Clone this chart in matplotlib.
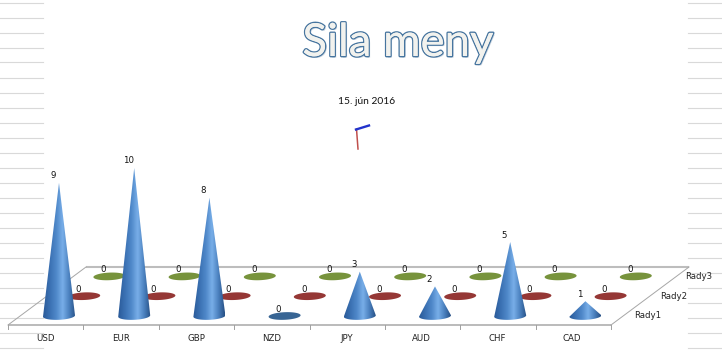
import numpy as np
import matplotlib
matplotlib.use("Agg")
import matplotlib.pyplot as plt
from matplotlib.colors import LinearSegmentedColormap
from matplotlib.patches import Polygon
import matplotlib.patheffects as pe

categories = ["USD", "EUR", "GBP", "NZD", "JPY", "AUD", "CHF", "CAD"]
rady1 = [9, 10, 8, 0, 3, 2, 5, 1]
rady2 = [0, 0, 0, 0, 0, 0, 0, 0]
rady3 = [0, 0, 0, 0, 0, 0, 0, 0]
series_names = ["Rady1", "Rady2", "Rady3"]
series_values = [rady1, rady2, rady3]
flat_colors = ["#386594", "#953735", "#77933C"]

W, H = 722, 362
X0, XU = 59.0, 75.2     # pixel x of first category, pixels per category
Y0, YU = 316.0, 14.8    # pixel y of zero, pixels per value unit
DX, DY = 25.2 / XU, 19.8 / YU   # depth shift per series, in data units
RX, RY = 16.0 / XU, 3.8 / YU
TILT = 0.7 / YU         # the base ellipses lean upward to the right


def dx(p):
    return (p - X0) / XU


def dy(p):
    return (Y0 - p) / YU


def ellipse_pts(cx, cy, t):
    return cx + RX * np.cos(t), cy + RY * np.sin(t) + TILT * np.cos(t)


fig = plt.figure(figsize=(W / 100, H / 100), dpi=100)
ax = fig.add_axes([0, 0, 1, 1])
ax.axis("off")

# sheet cell lines behind the chart
for yy in np.arange(2.5, 350, 15):
    ax.plot([dx(0), dx(43)], [dy(yy)] * 2, color="#d9d9d9", lw=0.8, zorder=0)
    ax.plot([dx(688), dx(722)], [dy(yy)] * 2, color="#d9d9d9", lw=0.8, zorder=0)

# floor frame
ax.plot([dx(86), dx(689)], [dy(267)] * 2, color="#bdbdbd", lw=1.5, zorder=1, solid_capstyle="butt")
ax.plot([dx(8), dx(611)], [dy(325)] * 2, color="#a8a8a8", lw=1.1, zorder=1, solid_capstyle="butt")
ax.plot([dx(8), dx(86)], [dy(325), dy(267)], color="#a6a6a6", lw=0.7, zorder=1)
ax.plot([dx(611), dx(689)], [dy(325), dy(267)], color="#a6a6a6", lw=0.7, zorder=1)
for i in range(len(categories) + 1):
    xt = dx(8) + i * (dx(611) - dx(8)) / len(categories)
    ax.plot([xt, xt], [dy(325), dy(329)], color="#a0a0a0", lw=0.7, zorder=1)

cone_cmap = LinearSegmentedColormap.from_list(
    "cone", ["#2A5A98", "#3A70B2", "#4F88C9", "#78AEE8", "#4A80BE", "#264F84"]
)
gradient = np.linspace(0, 1, 128).reshape(1, -1)

# back to front
for s in [2, 1, 0]:
    xoff, yoff = s * DX, s * DY
    for i, v in enumerate(series_values[s]):
        cx, cy = i + xoff, yoff
        z = 3 + (2 - s)
        if v == 0:
            t = np.linspace(0, 2 * np.pi, 60)
            ex, ey = ellipse_pts(cx, cy, t)
            ax.add_patch(Polygon(np.column_stack([ex, ey]), closed=True,
                                 fc=flat_colors[s], ec="none", zorder=z))
        else:
            t = np.linspace(np.pi, 2 * np.pi, 40)
            ex, ey = ellipse_pts(cx, cy, t)
            verts = [(cx, cy + v)] + list(zip(ex, ey))
            poly = Polygon(verts, closed=True, transform=ax.transData, fc="none", ec="none")
            ax.add_patch(poly)
            im = ax.imshow(gradient, cmap=cone_cmap, aspect="auto", zorder=z,
                           extent=(cx - RX, cx + RX, cy - RY - TILT, cy + v),
                           interpolation="bilinear")
            im.set_clip_path(poly)
        ax.text(cx - 6 / XU, cy + v + 7 / YU, str(v), ha="center", va="center",
                fontsize=6.2, family="DejaVu Sans", color="#111111", zorder=10)

# axis labels
for i, c in enumerate(categories):
    ax.text(i + dx(45.6) - dx(X0), dy(338.5), c, ha="center", va="center",
            fontsize=6.2, family="DejaVu Sans", color="#222222", zorder=10)
for s, name in enumerate(series_names):
    ax.text(dx(648) + s * DX, dy(316) + s * DY, name, ha="center", va="center",
            fontsize=6.2, family="DejaVu Sans", color="#222222", zorder=10)

# small axis marks under the date
ax.plot([dx(356.5), dx(358)], [dy(129), dy(149)], color="#C0504D", lw=1.1, zorder=6)
ax.plot([dx(356), dx(369)], [dy(129.5), dy(125.5)], color="#2233CC", lw=1.7, zorder=6)

ax.text(dx(366.5), dy(101), "15. jún 2016", ha="center", va="center",
        fontsize=7.4, family="Lato", color="#111111", zorder=10)

title = ax.text(dx(398), dy(43), "Sila meny", ha="center", va="center",
                fontsize=32.8, family="Lato", color="#F2F2EE", zorder=10)
title.set_path_effects([
    pe.withSimplePatchShadow(offset=(1.2, -1.2), shadow_rgbFace="#9FB2C6", alpha=0.5),
    pe.withStroke(linewidth=2.0, foreground="#47759F"),
    pe.Normal(),
])

ax.set_xlim(dx(0), dx(W))
ax.set_ylim(dy(H), dy(0))
fig.savefig("out.png", dpi=100, facecolor="white")
